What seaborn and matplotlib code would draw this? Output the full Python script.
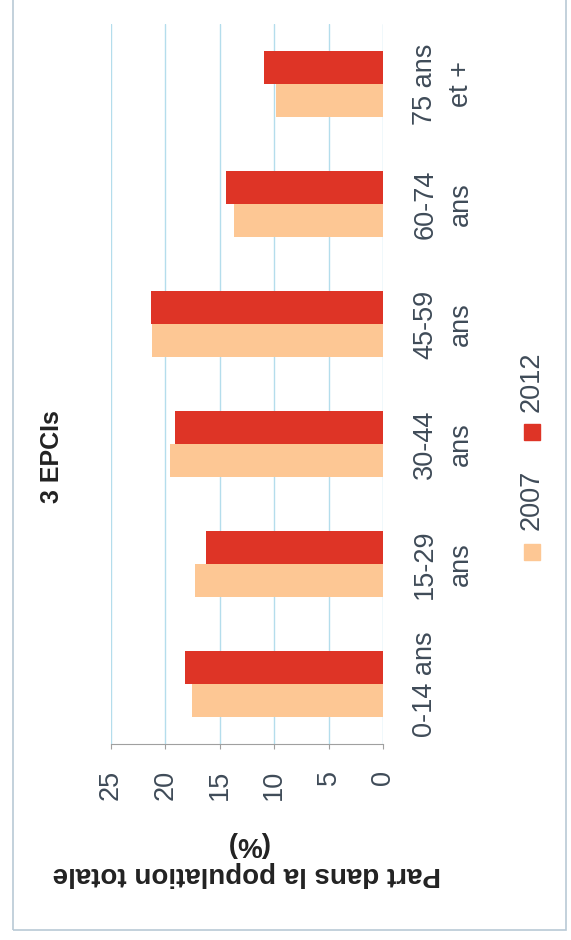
import matplotlib
matplotlib.use("Agg")
import matplotlib.pyplot as plt
from matplotlib.patches import Rectangle
import pandas as pd
import seaborn as sns

# --- Data (share of total population, %) ---
age_groups = ["75 ans\net +", "60-74\nans", "45-59\nans", "30-44\nans", "15-29\nans", "0-14 ans"]
share_2007 = [9.8, 13.7, 21.2, 19.6, 17.3, 17.6]
share_2012 = [10.9, 14.4, 21.3, 19.1, 16.3, 18.2]
years = ["2012", "2007"]
value_ticks = [0, 5, 10, 15, 20, 25]

colors = {"2007": "#fdc794", "2012": "#de3426"}
text_color = "#3f4b58"
grid_color = "#b4ddec"

df = pd.DataFrame({
    "age": age_groups * 2,
    "year": ["2007"] * len(age_groups) + ["2012"] * len(age_groups),
    "share": share_2007 + share_2012,
})

sns.set_style("white")
plt.rcParams["font.family"] = ["Liberation Sans", "DejaVu Sans"]

W, H = 571, 940
fig = plt.figure(figsize=(W / 100, H / 100), dpi=100)
ax = fig.add_axes([111 / W, (H - 744) / H, (383 - 111) / W, 720 / H])

sns.barplot(data=df, y="age", x="share", hue="year", order=age_groups, hue_order=years,
            palette=colors, width=0.55, orient="h", saturation=1, errorbar=None,
            linewidth=0, legend=False, ax=ax)

# --- Axes (chart is drawn turned a quarter turn) ---
ax.set_xlim(25, 0)
ax.set_xticks(value_ticks)
ax.set_ylabel("")
ax.set_axisbelow(True)
ax.grid(axis="x", color=grid_color, lw=1)
ax.grid(axis="y", visible=False)
for side in ["top", "left", "right"]:
    ax.spines[side].set_visible(False)
ax.spines["bottom"].set_color("#a0a0a0")

ax.tick_params(axis="x", bottom=True, length=3.6, color="#a0a0a0", direction="out",
               labelrotation=90, labelsize=19.5, labelcolor=text_color, pad=15)
ax.yaxis.tick_right()
ax.tick_params(axis="y", length=0, pad=21, labelsize=19.5, labelcolor=text_color,
               labelrotation=90)
for lab in ax.get_yticklabels():
    lab.set_va("center")
    lab.set_ha("left")
    lab.set_multialignment("center")
    lab.set_linespacing(1.5)

ax.set_xlabel("Part dans la population totale\n(%)", rotation=180, fontweight="bold",
              fontsize=20, color="#222222", labelpad=22)

# --- Title ---
fig.text(52 / W, 1 - 457 / H, "3 EPCIs", rotation=90, fontweight="bold", fontsize=18,
         ha="center", va="center", color="#222222")

# --- Legend (turned like the rest) ---
fig.text(532 / W, 1 - 382 / H, "2012", rotation=90, fontsize=19.5, ha="center", va="center",
         color=text_color)
fig.text(532 / W, 1 - 500 / H, "2007", rotation=90, fontsize=19.5, ha="center", va="center",
         color=text_color)
for yc, yr in [(432, "2012"), (552, "2007")]:
    fig.patches.append(Rectangle(((532 - 8) / W, 1 - (yc + 8) / H), 16 / W, 16 / H,
                                 transform=fig.transFigure, color=colors[yr]))

# --- Outer frame ---
fig.patches.append(Rectangle((13 / W, 1 - 930 / H), (566 - 13) / W, 930 / H + 0.05,
                             transform=fig.transFigure, fill=False,
                             edgecolor="#b9c9d6", lw=1.2, clip_on=False))

fig.savefig("out.png", dpi=100)
